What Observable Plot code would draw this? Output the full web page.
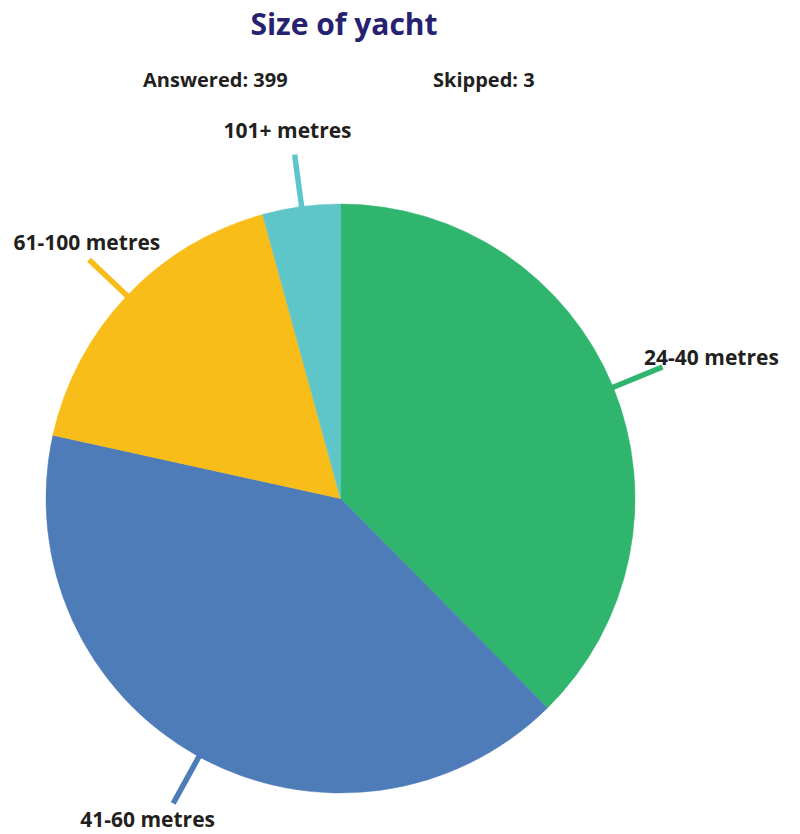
<!DOCTYPE html>
<html>
<head>
<meta charset="utf-8">
<script src="https://cdn.jsdelivr.net/npm/d3@7"></script>
<script src="https://cdn.jsdelivr.net/npm/@observablehq/plot@0.6"></script>
<style>
  html, body { margin: 0; padding: 0; background: #fff; }
  body { width: 800px; font-family: "Open Sans", "Noto Sans", sans-serif; }
  #header { position: relative; width: 800px; height: 100px; }
  #title { position: absolute; left: 0; width: 688px; top: 3px; text-align: center;
           font-size: 30px; font-weight: 700; color: #27226f; line-height: 42px; }
  .stat { position: absolute; top: 66px; font-size: 20px; font-weight: 700; color: #231f20; line-height: 28px; }
  #chart svg { display: block; }
</style>
</head>
<body>
<div id="header">
  <div id="title">Size of yacht</div>
  <div class="stat" style="left:143px">Answered: 399</div>
  <div class="stat" style="left:433px">Skipped: 3</div>
</div>
<div id="chart"></div>
<script>
// Data
const categories = ["24-40 metres", "41-60 metres", "61-100 metres", "101+ metres"];
const counts = [150, 163, 69, 17];
const colors = ["#2fb56d", "#4e7cb9", "#f8bd19", "#5ec5c9"];

const W = 800, H = 734;
const R = 294.5, CX = 340.5, CY = 398.5;
const FONT_SIZE = 21;
const FONT = `700 ${FONT_SIZE}px "Open Sans", "Noto Sans", sans-serif`;

const ctx = document.createElement("canvas").getContext("2d");
ctx.font = FONT;

const arcs = d3.pie().sort(null).value(d => d)(counts);
const slices = categories.map((c, i) => {
  const start = arcs[i].startAngle, end = arcs[i].endAngle, mid = (start + end) / 2;
  // label placement: elliptical offset around the pie, then kept inside the frame
  const w = ctx.measureText(c).width;
  let px = CX + Math.sin(mid) * R * 1.36;
  px = Math.max(13 + w / 2, Math.min(W - 17 - w / 2, px));
  let py = CY - Math.cos(mid) * R * 1.26;
  py = Math.max(14, Math.min(H - 14, py));
  return {category: c, count: counts[i], start, end, mid,
          lx: (px - CX) / R, ly: (CY - py) / R};
});

const color = d3.scaleOrdinal(categories, colors);

function pieMark(index, scales) {
  const cx = scales.x(0), cy = scales.y(0);
  const r = scales.x(1) - scales.x(0);
  const arc = d3.arc().innerRadius(0).outerRadius(r);
  const g = d3.create("svg:g").attr("transform", `translate(${cx},${cy})`);
  g.selectAll("path")
    .data(slices)
    .join("path")
    .attr("d", d => arc({startAngle: d.start, endAngle: d.end}))
    .attr("fill", d => color(d.category))
    .attr("stroke", d => color(d.category))
    .attr("stroke-width", 0.5);
  return g.node();
}

const chart = Plot.plot({
  width: W,
  height: H,
  margin: 0,
  x: {domain: [-CX / R, (W - CX) / R], axis: null},
  y: {domain: [-(H - CY) / R, CY / R], axis: null},
  color: {domain: categories, range: colors},
  style: {fontFamily: "'Open Sans', 'Noto Sans', sans-serif", overflow: "visible"},
  marks: [
    Plot.link(slices, {
      x1: d => Math.sin(d.mid) * 0.97,
      y1: d => Math.cos(d.mid) * 0.97,
      x2: d => Math.sin(d.mid) * 1.18,
      y2: d => Math.cos(d.mid) * 1.18,
      stroke: "category",
      strokeWidth: 5.5,
      strokeLinecap: "butt"
    }),
    pieMark,
    Plot.text(slices, {
      x: "lx",
      y: "ly",
      text: "category",
      fontSize: FONT_SIZE,
      fontWeight: 700,
      fill: "#231f20",
      textAnchor: "middle",
      lineAnchor: "middle"
    })
  ]
});
document.getElementById("chart").appendChild(chart);
</script>
</body>
</html>
